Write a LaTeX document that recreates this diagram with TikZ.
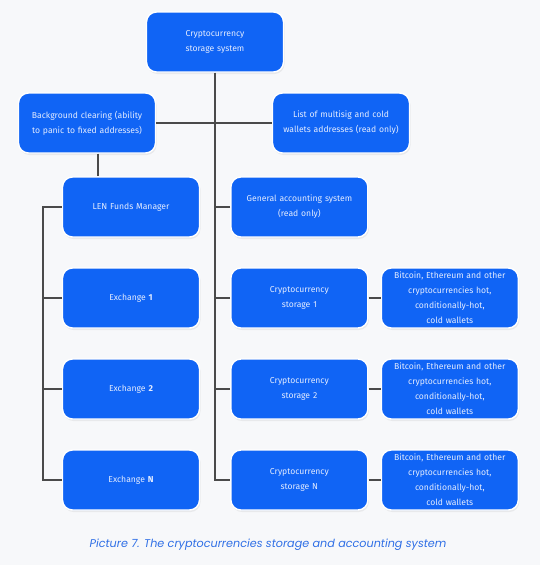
\documentclass[tikz,border=0pt]{standalone}
\usepackage{fontspec}
\setmainfont{Fira Sans}
\newfontfamily\capfont{Poppins}
\usepackage{xcolor}
\usetikzlibrary{positioning,shadows}
\definecolor{boxblue}{HTML}{1064F5}
\definecolor{boxtext}{HTML}{E4ECFF}
\definecolor{wire}{HTML}{4A4A4A}
\definecolor{paper}{HTML}{F7F8FA}
\definecolor{captionblue}{HTML}{2F6FE6}

\begin{document}
\begin{tikzpicture}[node distance=29.6pt and 30pt,
  unit/.style={draw=white, line width=1.4pt, fill=boxblue, rounded corners=10pt, text=boxtext, align=center,
    minimum width=137pt, minimum height=60pt, text width=130pt, inner sep=1pt,
    font=\fontsize{8.6}{15}\selectfont, drop shadow={opacity=0.12, shadow xshift=1pt, shadow yshift=-2pt}},
  link/.style={draw=wire, line width=1.8pt}]
\fill[paper] (0,0) rectangle (540pt,-565pt);
\useasboundingbox (0,0) rectangle (540pt,-565pt);
\node[unit] (sys) at (215pt,-42pt) {Cryptocurrency\\storage system};
\node[unit] (bg) at (87pt,-123pt) {Background clearing (ability\\to panic to fixed addresses)};
\node[unit] (ms) at (341pt,-123pt) {List of multisig and cold\\wallets addresses (read only)};
\node[unit] (len) at (131pt,-207pt) {LEN Funds Manager};
\node[unit] (acc) [right=of len] {General accounting system\\(read only)};
\node[unit] (ex1) [below=of len] {Exchange \textbf{1}};
\node[unit] (st1) [below=of acc] {Cryptocurrency\\storage 1};
\node[unit] (ex2) [below=of ex1] {Exchange \textbf{2}};
\node[unit] (st2) [below=of st1] {Cryptocurrency\\storage 2};
\node[unit] (exN) [below=of ex2] {Exchange \textbf{N}};
\node[unit] (stN) [below=of st2] {Cryptocurrency\\storage N};
\foreach \i in {1,2,N}
  \node[unit, font=\fontsize{8.6}{15}\selectfont] (btc\i) [right=12pt of st\i] {Bitcoin, Ethereum and other\\cryptocurrencies hot,\\conditionally-hot,\\cold wallets};
\node (cap) at (268pt,-545pt) {\capfont\itshape\fontsize{11.2}{13}\selectfont\color{captionblue}Picture 7. The cryptocurrencies storage and accounting system};
% wiring
\begin{scope}[on background layer/.try]
\draw[link] (sys.south) -- (sys.south |- stN.west) -- (stN.west);
\draw[link] (bg.east) -- (ms.west);
\draw[link] ([xshift=11pt]bg.south) -- ([xshift=11pt]bg.south |- len.north);
\draw[link] (len.west) -- ++(-19pt,0) |- (exN.west);
\foreach \n in {ex1,ex2} \draw[link] (\n.west) -- ++(-19pt,0);
\foreach \n in {acc,st1,st2} \draw[link] (\n.west) -- (\n.west -| sys.south);
\foreach \i in {1,2,N} \draw[link] (st\i.east) -- (btc\i.west);
\end{scope}
\end{tikzpicture}
\end{document}
